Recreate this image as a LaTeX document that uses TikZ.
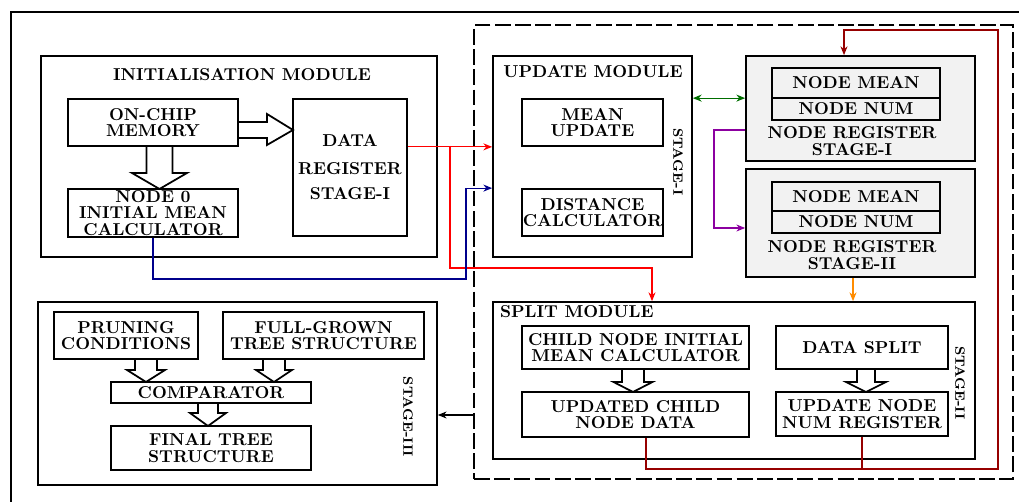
\documentclass[tikz,border=0pt]{standalone}
\usepackage{tikz}
\usepackage{xcolor}
\usetikzlibrary{arrows.meta}

\definecolor{linkred}{RGB}{255,0,0}
\definecolor{linkblue}{RGB}{0,0,140}
\definecolor{linkgreen}{RGB}{0,110,0}
\definecolor{linkpurple}{RGB}{140,0,160}
\definecolor{linkdark}{RGB}{150,0,0}
\definecolor{linkorange}{RGB}{255,140,0}

\begin{document}
\begin{tikzpicture}[
	x=0.02cm, y=-0.02cm,
	>={Stealth[length=5pt, width=4pt]},
	box/.style={
		draw, line width=1pt, rectangle, inner sep=0pt,
		font=\fontsize{9.8}{9.4}\selectfont\bfseries, align=center
	},
	modbox/.style={draw, line width=1pt, rectangle},
	ttl/.style={font=\fontsize{9.8}{9.4}\selectfont\bfseries, align=center},
	stagelbl/.style={font=\fontsize{7.7}{8}\selectfont\bfseries, rotate=-90},
	arr/.style={->, line width=0.7pt},
	fat/.style={draw, line width=1pt},
	]
	\useasboundingbox (0,0) rectangle (1019,502);
	\draw[line width=1pt] (11,502) -- (11,12) -- (1019,12);
	\node[modbox, dash pattern=on 9pt off 2.5pt, minimum width=10.78cm, minimum height=9.08cm] (stagebox) at (743.5,252) {};

	\node[modbox, minimum width=7.92cm, minimum height=4.02cm] (initmod) at (239,156.5) {};
	\node[ttl] (inittitle) at (242,75) {INITIALISATION MODULE};
	\node[box, minimum width=3.4cm, minimum height=0.94cm] (mem) at (153,122.5) {ON-CHIP\\MEMORY};
	\node[box, minimum width=3.4cm, minimum height=0.96cm] (node0) at (153,213)
	{NODE 0\\INITIAL MEAN\\CALCULATOR};
	\node[box, minimum width=2.28cm, minimum height=2.74cm] (datareg) at (350,167.5)
	{DATA\\[6.5pt]REGISTER\\[4.8pt]STAGE-I};

	\node[modbox, minimum width=3.98cm, minimum height=4.02cm] (updmod) at (592.5,156.5) {};
	\node[ttl] (updtitle) at (593,72) {UPDATE MODULE};
	\node[box, minimum width=2.82cm, minimum height=0.94cm] (meanupd) at (592.5,122.5) {MEAN\\UPDATE};
	\node[box, minimum width=2.82cm, minimum height=0.94cm] (distcalc) at (592.5,212.5) {DISTANCE\\CALCULATOR};
	\node[stagelbl] (stage1) at (678,162) {STAGE-I};

	\node[modbox, fill=black!5, minimum width=4.58cm, minimum height=2.1cm] (nreg1) at (860.5,108.5) {};
	\node[box, minimum width=3.36cm, minimum height=0.6cm] (mean1) at (856,83) {NODE MEAN};
	\node[box, minimum width=3.36cm, minimum height=0.44cm] (num1) at (856,109) {NODE NUM};
	\node[ttl] (reg1lbl) at (852,141) {NODE REGISTER\\STAGE-I};

	\node[modbox, fill=black!5, minimum width=4.58cm, minimum height=2.16cm] (nreg2) at (860.5,223) {};
	\node[box, minimum width=3.36cm, minimum height=0.58cm] (mean2) at (856,196.5) {NODE MEAN};
	\node[box, minimum width=3.36cm, minimum height=0.44cm] (num2) at (856,222) {NODE NUM};
	\node[ttl] (reg2lbl) at (852,255) {NODE REGISTER\\STAGE-II};

	\node[modbox, minimum width=9.64cm, minimum height=3.14cm] (splitmod) at (734,380.5) {};
	\node[ttl, anchor=west] (splittitle) at (494,312) {SPLIT MODULE};
	\node[box, minimum width=4.54cm, minimum height=0.86cm] (childcalc) at (635.5,347.5)
	{CHILD NODE INITIAL\\MEAN CALCULATOR};
	\node[box, minimum width=4.54cm, minimum height=0.9cm] (updchild) at (635.5,414.5)
	{UPDATED CHILD\\NODE DATA};
	\node[box, minimum width=3.44cm, minimum height=0.86cm] (datasplit) at (862,347.5) {DATA SPLIT};
	\node[box, minimum width=3.44cm, minimum height=0.88cm] (updnum) at (862,414)
	{UPDATE NODE\\NUM REGISTER};
	\node[stagelbl] (stage2) at (960,383) {STAGE-II};

	\node[modbox, minimum width=7.98cm, minimum height=3.66cm] (stage3box) at (237.5,393.5) {};
	\node[box, minimum width=2.88cm, minimum height=0.94cm] (pruning) at (126,335.5) {PRUNING\\CONDITIONS};
	\node[box, minimum width=4.02cm, minimum height=0.94cm] (fullgrown) at (323.5,335.5)
	{FULL-GROWN\\TREE STRUCTURE};
	\node[box, minimum width=4cm, minimum height=0.42cm] (comparator) at (211,392.5) {COMPARATOR};
	\node[box, minimum width=4cm, minimum height=0.88cm] (finaltree) at (211,448) {FINAL TREE\\STRUCTURE};
	\node[stagelbl] (stage3) at (408,417) {STAGE-III};

	\foreach \x/\a/\b/\s/\h/\l in {159.5/146/189/13/27.5/16, 146/359/382/11/19/12,
		274/359/382/11/18/12, 208/403/426/10/18/13, 633/369/392/11/19.5/10, 866/369/392/9/20/10}
		\draw[fat] (\x-\s,\a) -- (\x-\s,\b-\l) -- (\x-\h,\b-\l) -- (\x,\b)
		-- (\x+\h,\b-\l) -- (\x+\s,\b-\l) -- (\x+\s,\a);
	\draw[fat] (238,122) -- (267,122) -- (267,114) -- (293,130) -- (267,145) -- (267,138) -- (238,138);

	\coordinate (redsplit) at (450,146);
	\coordinate (redturn) at (652,268);
	\coordinate (blueturn) at (466,279);
	\coordinate (purpletop) at (714,130);
	\coordinate (purplebot) at (714,228);
	\coordinate (fbbot) at (998,469);
	\coordinate (fbtop) at (998,30);
	\coordinate (fbdrop) at (844,30);
	\coordinate (orangex) at (853,0);
	\coordinate (backout) at (474,415);

	\draw[arr, linkred] (datareg.east |- meanupd.south) -- (updmod.west |- meanupd.south);
	\draw[arr, linkred] (redsplit) |- (redturn) -- (redturn |- splitmod.north);
	\draw[arr, linkblue] (node0.south) |- (blueturn) |- (updmod.west |- distcalc.north);
	\draw[<->, line width=0.7pt, linkgreen] (updmod.east |- meanupd.north) -- (nreg1.west |- meanupd.north);
	\draw[arr, linkpurple] (nreg1.west |- purpletop) -- (purpletop) -- (purplebot) -- (nreg2.west |- purplebot);
	\draw[arr, linkdark] ([xshift=0.21cm]updchild.south) |- (fbbot) -- (fbtop) -- (fbdrop) -- (fbdrop |- nreg1.north);
	\draw[line width=0.7pt, linkdark] (updnum.south) -- (updnum.south |- fbbot);
	\draw[arr, linkorange] (orangex |- nreg2.south) -- (orangex |- splitmod.north);
	\draw[arr] (backout) -- (stage3box.east |- backout);
\end{tikzpicture}
\end{document}
